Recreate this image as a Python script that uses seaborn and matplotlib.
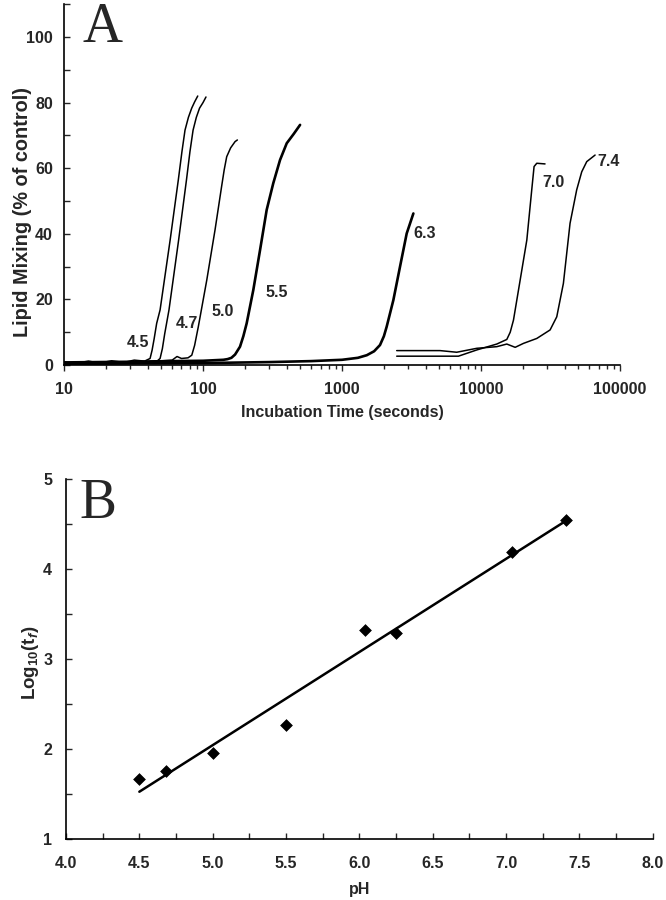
import numpy as np
import pandas as pd
import matplotlib
matplotlib.use("Agg")
import matplotlib.pyplot as plt
import seaborn as sns
from matplotlib.ticker import FixedLocator, MultipleLocator, FormatStrFormatter

# ---- panel A data: lipid mixing curves (time in s, % of control) ----
t_45 = [10, 12, 15, 18, 22, 27, 32, 38, 41.6, 43, 44.5, 46.4, 49.1, 58.0, 66.4, 70.5, 74.2, 78.5, 82.9, 87, 91.6]
v_45 = [1.0, 0.5, 1.2, 0.6, 1.3, 0.8, 1.5, 1.2, 2.0, 4.5, 8.0, 12.7, 16.8, 38.1, 56.4, 65.0, 71.6, 75.5, 78.3, 80.2, 82.0]

t_47 = [10, 13, 17, 20, 25, 30, 40, 47, 49.1, 51, 53, 56.9, 66.7, 76.0, 80.5, 84.8, 89.5, 94.4, 100, 105]
v_47 = [0.3, 1.0, 0.4, 1.0, 0.5, 0.9, 1.1, 1.3, 2.0, 5.0, 9.5, 16.8, 38.0, 56.4, 65.0, 71.6, 75.5, 78.3, 80.0, 81.7]

t_50 = [10, 20, 40, 60, 65, 70, 78, 83, 87, 92.5, 106.4, 122, 136, 142, 148, 158, 170, 176.6]
v_50 = [0.6, 0.8, 1.0, 1.5, 2.6, 2.0, 2.2, 3.0, 6.0, 11.7, 25.9, 41.2, 54.4, 59.5, 63.5, 66.2, 68.1, 68.6]

t_55 = [10, 30, 60, 100, 140, 150, 160, 170, 184.5, 195, 206, 230, 257, 287, 320, 358, 400, 450, 499]
v_55 = [0.8, 1.0, 1.2, 1.3, 1.6, 1.8, 2.2, 3.2, 5.6, 8.8, 12.7, 22.9, 35.0, 47.3, 55.4, 62.5, 67.6, 70.5, 73.2]

t_63 = [10, 30, 100, 300, 600, 1000, 1300, 1507, 1700, 1875, 2000, 2094, 2339, 2612, 2917, 3258]
v_63 = [0.3, 0.5, 0.6, 0.9, 1.2, 1.6, 2.2, 3.0, 4.2, 6.1, 8.8, 11.7, 19.8, 30.0, 40.1, 46.2]

t_70 = [2472, 5000, 6870, 9310, 12970, 15310, 16200, 17100, 19100, 21330, 23140, 24050, 25150, 28840]
v_70 = [2.7, 2.7, 2.7, 4.6, 6.4, 7.8, 10.0, 13.7, 25.9, 38.1, 53.4, 60.5, 61.5, 61.3]

t_74 = [2472, 5070, 6680, 9310, 12970, 15310, 17590, 20170, 25150, 31360, 35020, 39090,
        43640, 48720, 52960, 57540, 66070]
v_74 = [4.4, 4.4, 3.9, 5.1, 5.6, 6.4, 5.4, 6.6, 8.1, 10.7, 14.7, 24.9, 43.2, 53.4, 58.9, 62.0, 64.0]

curve_names = ["4.5", "4.7", "5.0", "5.5", "6.3", "7.0", "7.4"]
curve_t = [t_45, t_47, t_50, t_55, t_63, t_70, t_74]
curve_v = [v_45, v_47, v_50, v_55, v_63, v_70, v_74]
label_t = [34, 76.7, 139, 340, 3954, 32960, 82000]
label_v = [7.0, 12.8, 16.2, 22.0, 40.2, 55.5, 61.9]

# ---- panel B data: log10 of lag time vs pH ----
ph = [4.50, 4.68, 5.00, 5.50, 6.04, 6.25, 7.04, 7.41]
log_t = [1.67, 1.755, 1.95, 2.27, 3.32, 3.29, 4.19, 4.54]

sns.set_style("ticks")
plt.rcParams['font.family'] = ['Liberation Sans', 'DejaVu Sans']
plt.rcParams['mathtext.fontset'] = 'custom'
plt.rcParams['mathtext.rm'] = 'Liberation Sans:bold'
plt.rcParams['mathtext.it'] = 'Liberation Sans:bold:italic'
plt.rcParams['mathtext.bf'] = 'Liberation Sans:bold'

fig = plt.figure(figsize=(6.66, 9.0), dpi=100)
axA = fig.add_axes([0.0961, 0.5944, 0.835, 0.401])
axB = fig.add_axes([0.0991, 0.0678, 0.881, 0.400])

# panel A
rows = []
for name, tt, vv in zip(curve_names, curve_t, curve_v):
    for i, (a, b) in enumerate(zip(tt, vv)):
        rows.append({"pH": name, "t": a, "v": b, "i": i})
dfA = pd.DataFrame(rows)

for name in curve_names:
    sub = dfA[dfA["pH"] == name]
    lw = 1.9 if name in ("5.5", "6.3") else 1.1
    sns.lineplot(data=sub, x="t", y="v", sort=False, estimator=None,
                 color="black", lw=lw, ax=axA)

for name, lt, lv in zip(curve_names, label_t, label_v):
    axA.text(lt, lv, name, ha="center", va="center", fontsize=11.5, fontweight="bold")

axA.set_xscale("log")
axA.set_xlim(10, 100000)
axA.set_ylim(0, 110)
axA.set_xticks([10, 100, 1000, 10000, 100000])
axA.set_xticklabels(["10", "100", "1000", "10000", "100000"])
axA.yaxis.set_major_locator(FixedLocator([0, 20, 40, 60, 80, 100]))
axA.yaxis.set_minor_locator(MultipleLocator(10))
axA.tick_params(axis="x", which="both", direction="out", length=4, width=1, pad=8)
axA.tick_params(axis="x", which="minor", length=3)
axA.tick_params(axis="y", which="both", direction="in", length=4, width=1, pad=8)
axA.set_xlabel("Incubation Time (seconds)", fontsize=11.5, fontweight="bold", labelpad=6)
axA.set_ylabel("Lipid Mixing (% of control)", fontsize=14.3, fontweight="bold")
axA.yaxis.set_label_coords(-0.058, 0.424)
axA.text(0.07, 0.935, "A", transform=axA.transAxes, fontsize=40,
         family=["Liberation Serif", "DejaVu Serif"], ha="center", va="center")

# panel B
sns.regplot(x=ph, y=log_t, ci=None, scatter=False, ax=axB,
            line_kws=dict(color="black", lw=1.8))
sns.scatterplot(x=ph, y=log_t, marker="D", s=36, color="black",
                edgecolor="black", ax=axB, zorder=3)
axB.set_xlim(4.0, 8.0)
axB.set_ylim(1, 5)
axB.xaxis.set_major_locator(MultipleLocator(0.5))
axB.xaxis.set_minor_locator(MultipleLocator(0.25))
axB.yaxis.set_major_locator(MultipleLocator(1))
axB.yaxis.set_minor_locator(MultipleLocator(0.5))
axB.xaxis.set_major_formatter(FormatStrFormatter("%.1f"))
axB.tick_params(axis="both", which="both", direction="in", length=4, width=1)
axB.tick_params(axis="x", pad=12)
axB.tick_params(axis="y", pad=10)
axB.set_xlabel("pH", fontsize=11.5, fontweight="bold", labelpad=8)
axB.set_ylabel(r"Log$_{10}$(t$_{\mathit{f}}$)", fontsize=13.5, fontweight="bold")
axB.yaxis.set_label_coords(-0.042, 0.49)
axB.text(0.055, 0.93, "B", transform=axB.transAxes, fontsize=40,
         family=["Liberation Serif", "DejaVu Serif"], ha="center", va="center")

for ax in (axA, axB):
    sns.despine(ax=ax)
    for s in ("left", "bottom"):
        ax.spines[s].set_linewidth(1.2)
        ax.spines[s].set_color("black")
    for lab in ax.get_xticklabels() + ax.get_yticklabels():
        lab.set_fontweight("bold")
        lab.set_fontsize(11.5)

fig.savefig("out.png", dpi=100)
